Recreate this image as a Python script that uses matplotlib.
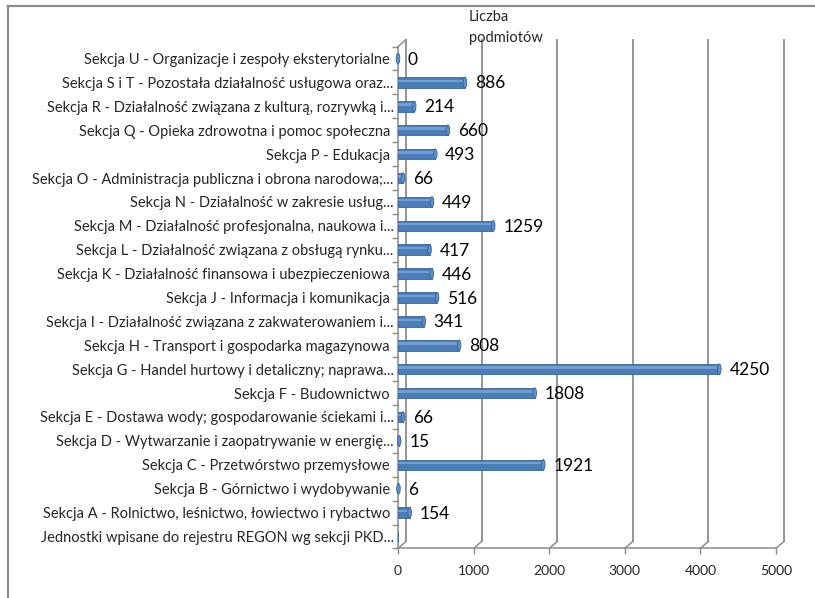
import numpy as np
import matplotlib
matplotlib.use("Agg")
import matplotlib.pyplot as plt
from matplotlib.patches import Ellipse
from matplotlib.lines import Line2D

plt.rcParams['font.family'] = ['Lato', 'DejaVu Sans']

# categories from bottom to top
categories = [
    "Jednostki wpisane do rejestru REGON wg sekcji PKD...",
    "Sekcja A - Rolnictwo, leśnictwo, łowiectwo i rybactwo ",
    "Sekcja B - Górnictwo i wydobywanie ",
    "Sekcja C - Przetwórstwo przemysłowe ",
    "Sekcja D - Wytwarzanie i zaopatrywanie w energię...",
    "Sekcja E - Dostawa wody; gospodarowanie ściekami i...",
    "Sekcja F - Budownictwo ",
    "Sekcja G - Handel hurtowy i detaliczny; naprawa...",
    "Sekcja H - Transport i gospodarka magazynowa ",
    "Sekcja I - Działalność związana z zakwaterowaniem i...",
    "Sekcja J - Informacja i komunikacja ",
    "Sekcja K - Działalność finansowa i ubezpieczeniowa ",
    "Sekcja L - Działalność związana z obsługą rynku...",
    "Sekcja M - Działalność profesjonalna, naukowa i...",
    "Sekcja N - Działalność w zakresie usług...",
    "Sekcja O - Administracja publiczna i obrona narodowa;...",
    "Sekcja P - Edukacja ",
    "Sekcja Q - Opieka zdrowotna i pomoc społeczna ",
    "Sekcja R - Działalność związana z kulturą, rozrywką i...",
    "Sekcja S i T - Pozostała działalność usługowa oraz...",
    "Sekcja U - Organizacje i zespoły eksterytorialne ",
]
values = [None, 154, 6, 1921, 15, 66, 1808, 4250, 808, 341, 516, 446,
          417, 1259, 449, 66, 493, 660, 214, 886, 0]
x_ticks = [0, 1000, 2000, 3000, 4000, 5000]
axis_title = "Liczba\npodmiotów"

W, H = 815, 598
fig = plt.figure(figsize=(W / 100, H / 100), dpi=100)
ax = fig.add_axes([398 / W, 1 - 548.4 / H, (776 - 398) / W, (548.4 - 46.6) / H])

n = len(categories)
y = np.arange(n)
xmax = 5000
ax.set_xlim(0, xmax)
ax.set_ylim(-0.5, n - 0.5)

# 3d depth offset in data units
ax_w_px = 776 - 398
ax_h_px = 548.4 - 46.6
dx = 8 * xmax / ax_w_px
dy = 7 * n / ax_h_px

grid_col = '#8c8c8c'
ybot, ytop = -0.5, n - 0.5

# back gridlines and wall
for v in x_ticks:
    ax.add_line(Line2D([v + dx, v + dx], [ybot + dy, ytop + dy], color=grid_col, lw=1.3, clip_on=False, zorder=1))
    ax.add_line(Line2D([v, v + dx], [ybot, ybot + dy], color=grid_col, lw=1.1, clip_on=False, zorder=1))
ax.add_line(Line2D([0, xmax], [ybot, ybot], color=grid_col, lw=1.1, clip_on=False, zorder=1))
ax.add_line(Line2D([0, 0], [ybot, ytop], color=grid_col, lw=1.1, clip_on=False, zorder=1))
ax.add_line(Line2D([0, dx], [ytop, ytop + dy], color=grid_col, lw=1.1, clip_on=False, zorder=1))

# bars
bh = 0.44
vals = np.array([np.nan if v is None else v for v in values], dtype=float)
ax.barh(y, np.nan_to_num(vals), height=bh, left=0, color='#4A7EBB', edgecolor='#3A6397', lw=0.6, zorder=3)
ax.barh(y + 0.07, np.nan_to_num(vals), height=0.1, left=0, color='#8FB4E3', lw=0, alpha=0.6, zorder=4)
for yi, v in zip(y, vals):
    if np.isnan(v):
        continue
    ax.add_patch(Ellipse((v, yi), width=dx * 0.45, height=bh, facecolor='#5E90CF',
                         edgecolor='#3A6397', lw=0.6, zorder=5, clip_on=False))
    ax.annotate(f"{int(v)}", (v, yi), xytext=(10, -1), textcoords='offset pixels',
                ha='left', va='center', fontsize=12.5, color='black', zorder=6)

for s in ax.spines.values():
    s.set_visible(False)
ax.set_yticks(y)
ax.set_yticklabels(categories, fontsize=10.5, color='#262626')
ax.set_yticks(np.arange(n + 1) - 0.5, minor=True)
ax.tick_params(axis='y', which='major', length=0, pad=3)
ax.tick_params(axis='y', which='minor', length=4, color=grid_col, width=1)
ax.set_xticks(x_ticks)
ax.set_xticklabels([str(t) for t in x_ticks], fontsize=10, color='#262626')
ax.tick_params(axis='x', length=4, color=grid_col, width=1, pad=8)

fig.text(469 / W, 1 - 10 / H, axis_title, ha='left', va='top', fontsize=10.5, color='#262626',
         linespacing=1.65)

# chart frame
fig.add_artist(Line2D([7.5 / W, 7.5 / W], [0, 1 - 5.5 / H], color=grid_col, lw=1.6, transform=fig.transFigure))
fig.add_artist(Line2D([7.5 / W, 1], [1 - 5.5 / H, 1 - 5.5 / H], color=grid_col, lw=1.6, transform=fig.transFigure))

fig.savefig("out.png", dpi=100)
